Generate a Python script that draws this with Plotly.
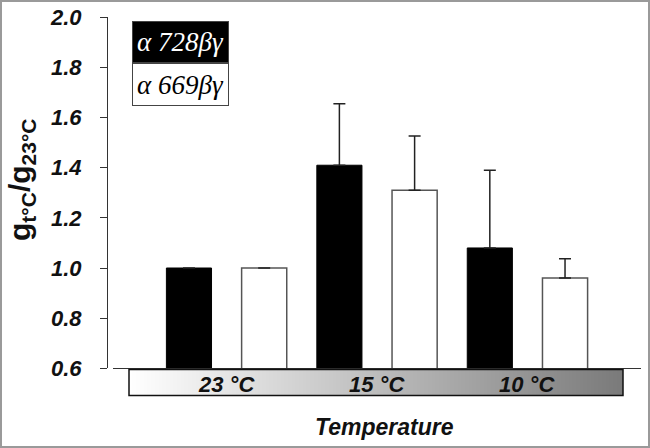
import numpy as np
import plotly.graph_objects as go

# ---- data ----
categories = ["23 °C", "15 °C", "10 °C"]
series_names = ["α 728βγ", "α 669βγ"]
values_728 = [1.00, 1.41, 1.08]
errors_728 = [0.0, 0.245, 0.31]
values_669 = [1.00, 1.31, 0.96]
errors_669 = [0.0, 0.217, 0.077]
y_ticks = [0.6, 0.8, 1.0, 1.2, 1.4, 1.6, 1.8, 2.0]

W, H = 650, 448
def px_x(p): return p / W
def px_y(p): return (H - p) / H

FONT = "Liberation Sans"
xpos = [0, 1, 2]

fig = go.Figure()
fig.add_trace(go.Bar(
    x=xpos, y=values_728, name=series_names[0],
    marker=dict(color="black", line=dict(color="black", width=1)),
    error_y=dict(type="data", array=errors_728, arrayminus=[0, 0, 0], symmetric=False,
                 color="#222", thickness=1.5, width=6),
    showlegend=False,
))
fig.add_trace(go.Bar(
    x=xpos, y=values_669, name=series_names[1],
    marker=dict(color="white", line=dict(color="#555", width=1.5)),
    error_y=dict(type="data", array=errors_669, arrayminus=[0, 0, 0], symmetric=False,
                 color="#222", thickness=1.5, width=6),
    showlegend=False,
))

# gradient band under the x axis
grad = np.linspace(0, 1, 200)[None, :]
fig.add_trace(go.Heatmap(
    z=grad, xaxis="x2", yaxis="y2", showscale=False, zsmooth="best",
    colorscale=[[0, "#ffffff"], [1, "#7a7a7a"]], hoverinfo="skip",
))

fig.update_layout(
    width=W, height=H,
    margin=dict(l=0, r=0, t=0, b=0),
    paper_bgcolor="white", plot_bgcolor="rgba(0,0,0,0)",
    barmode="group", bargap=0.0, bargroupgap=0.4,
    xaxis=dict(domain=[px_x(113), px_x(641)], range=[-0.755, 2.755],
               showline=True, linecolor="#333", linewidth=1,
               showgrid=False, zeroline=False, ticks="", showticklabels=False,
               anchor="y", fixedrange=True),
    yaxis=dict(domain=[px_y(368.3), px_y(17.3)], range=[0.6, 2.0],
               anchor="free", position=px_x(107),
               tickvals=y_ticks, ticktext=[f"{v:.1f}" for v in y_ticks],
               showline=True, linecolor="#333", linewidth=1,
               ticks="outside", ticklen=7, tickcolor="#333", tickwidth=1,
               showgrid=False, zeroline=False, automargin=False,
               ticklabelstandoff=14,
               tickfont=dict(family=FONT, size=22, color="#111", weight="bold", style="italic")),
    xaxis2=dict(domain=[px_x(129), px_x(623)], range=[-0.5, 199.5], visible=False,
                anchor="y2", showgrid=False),
    yaxis2=dict(domain=[px_y(395.5), px_y(369.5)], range=[-0.5, 0.5], visible=False,
                anchor="x2", showgrid=False),
)

shapes = [
    dict(type="rect", xref="x2 domain", yref="y2 domain", x0=0, x1=1, y0=0, y1=1,
         line=dict(color="#111", width=1.5)),
    dict(type="rect", xref="paper", yref="paper", x0=0, x1=1, y0=0, y1=1,
         line=dict(color="#9a9a9a", width=4)),
]
fig.update_layout(shapes=shapes)

ann = []
# category labels on the gradient band
for xi, lab in zip(xpos, categories):
    ann.append(dict(x=xi, xref="x", y=px_y(384), yref="paper", text=lab, showarrow=False,
                    xanchor="center", yanchor="middle",
                    font=dict(family=FONT, size=22, color="#111", weight="bold", style="italic")))
# axis titles
ann.append(dict(x=px_x(384), xref="paper", y=px_y(427), yref="paper", text="Temperature",
                showarrow=False, xanchor="center", yanchor="middle",
                font=dict(family=FONT, size=23, color="#111", weight="bold", style="italic")))
ann.append(dict(x=px_x(21), xref="paper", y=px_y(180), yref="paper",
                text="<b>g<sub>t°C</sub>/g<sub>23°C</sub></b>", textangle=-90,
                showarrow=False, xanchor="center", yanchor="middle",
                font=dict(family=FONT, size=30, color="#111", weight="bold")))
# legend boxes
ann.append(dict(x=px_x(180.5), xref="paper", y=px_y(42), yref="paper", text=series_names[0],
                showarrow=False, xanchor="center", yanchor="middle",
                width=95, height=40, bgcolor="black", bordercolor="#444", borderwidth=1,
                borderpad=0,
                font=dict(family="Liberation Serif", size=27, color="white", style="italic")))
ann.append(dict(x=px_x(180.5), xref="paper", y=px_y(84.5), yref="paper", text=series_names[1],
                showarrow=False, xanchor="center", yanchor="middle",
                width=95, height=41, bgcolor="white", bordercolor="#444", borderwidth=1,
                borderpad=0,
                font=dict(family="Liberation Serif", size=27, color="black", style="italic")))
fig.update_layout(annotations=ann)

fig.write_html("out.html", config={"displayModeBar": False},
               post_script="document.body.style.margin='0px';document.body.style.overflow='hidden';")
